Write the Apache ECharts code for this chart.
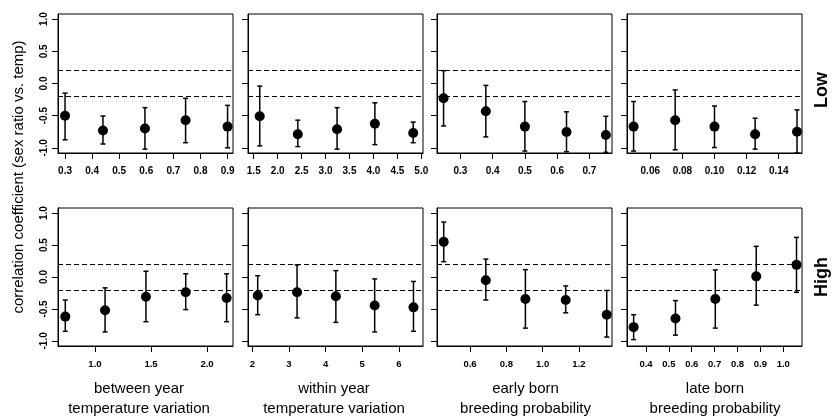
<!DOCTYPE html>
<html>
<head>
<meta charset="utf-8">
<script src="https://cdn.jsdelivr.net/npm/echarts@6/dist/echarts.min.js"></script>
<style>
html, body {margin: 0; padding: 0; background: #fff;}
#contain {width: 834px; height: 418px;}
</style>
</head>
<body>
<div id="contain"></div>
<script>
// each row: [x, correlation, lower, upper]
var lowBetween = [[0.30, -0.50, -0.875, -0.15], [0.44, -0.73, -0.94, -0.505], [0.595, -0.70, -1.02, -0.375], [0.745, -0.57, -0.92, -0.23], [0.90, -0.67, -1.00, -0.34]];
var lowWithin = [[1.625, -0.51, -0.97, -0.04], [2.42, -0.79, -0.98, -0.57], [3.24, -0.71, -1.02, -0.375], [4.03, -0.625, -0.95, -0.30], [4.83, -0.77, -0.92, -0.60]];
var lowEarly = [[0.248, -0.23, -0.66, 0.20], [0.379, -0.43, -0.83, -0.03], [0.50, -0.67, -1.05, -0.28], [0.629, -0.755, -1.06, -0.44], [0.751, -0.80, -1.07, -0.51]];
var lowLate = [[0.0496, -0.67, -1.05, -0.28], [0.0755, -0.57, -1.03, -0.10], [0.100, -0.67, -0.995, -0.35], [0.1253, -0.79, -1.02, -0.54], [0.1514, -0.75, -1.08, -0.41]];
var highBetween = [[0.735, -0.62, -0.85, -0.36], [1.09, -0.52, -0.86, -0.17], [1.455, -0.31, -0.70, 0.09], [1.81, -0.24, -0.51, 0.05], [2.175, -0.33, -0.70, 0.05]];
var highWithin = [[2.145, -0.29, -0.59, 0.02], [3.22, -0.24, -0.64, 0.19], [4.28, -0.30, -0.71, 0.10], [5.34, -0.445, -0.86, -0.03], [6.40, -0.475, -0.85, -0.07]];
var highEarly = [[0.455, 0.55, 0.24, 0.86], [0.687, -0.05, -0.36, 0.28], [0.905, -0.345, -0.80, 0.115], [1.127, -0.36, -0.56, -0.14], [1.353, -0.59, -0.94, -0.21]];
var highLate = [[0.346, -0.785, -0.98, -0.59], [0.529, -0.65, -0.91, -0.37], [0.703, -0.345, -0.80, 0.11], [0.882, 0.01, -0.44, 0.48], [1.058, 0.19, -0.24, 0.62]];

// tick values
var yTicks = [-1, -0.5, 0, 0.5, 1];
var lowBetweenTicks = [0.3, 0.4, 0.5, 0.6, 0.7, 0.8, 0.9];
var lowWithinTicks = [1.5, 2.0, 2.5, 3.0, 3.5, 4.0, 4.5, 5.0];
var lowEarlyTicks = [0.3, 0.4, 0.5, 0.6, 0.7];
var lowLateTicks = [0.06, 0.08, 0.10, 0.12, 0.14];
var highBetweenTicks = [1.0, 1.5, 2.0];
var highWithinTicks = [2, 3, 4, 5, 6];
var highEarlyTicks = [0.6, 0.8, 1.0, 1.2];
var highLateTicks = [0.4, 0.5, 0.6, 0.7, 0.8, 0.9, 1.0];

var xTitles = ['between year\ntemperature variation', 'within year\ntemperature variation', 'early born\nbreeding probability', 'late born\nbreeding probability'];

var panels = [
    {data: lowBetween, ticks: lowBetweenTicks, min: 0.274, max: 0.920, dec: 1},
    {data: lowWithin, ticks: lowWithinTicks, min: 1.38, max: 5.035, dec: 1},
    {data: lowEarly, ticks: lowEarlyTicks, min: 0.2276, max: 0.770, dec: 1},
    {data: lowLate, ticks: lowLateTicks, min: 0.0455, max: 0.1545, dec: 2},
    {data: highBetween, ticks: highBetweenTicks, min: 0.67, max: 2.232, dec: 1},
    {data: highWithin, ticks: highWithinTicks, min: 1.88, max: 6.66, dec: 0},
    {data: highEarly, ticks: highEarlyTicks, min: 0.418, max: 1.382, dec: 1},
    {data: highLate, ticks: highLateTicks, min: 0.317, max: 1.082, dec: 1}
];

var font = 'Liberation Sans, Arial, Helvetica, sans-serif';
var colLeft = [58, 248, 437, 627], rowTop = [14, 208], rowH = [139, 138], boxW = 175;

function errorBar(params, api) {
    var x = api.value(0);
    var lo = api.coord([x, api.value(2)]);
    var hi = api.coord([x, api.value(3)]);
    var w = 2.5;
    var st = {stroke: '#000', lineWidth: 1.5};
    return {
        type: 'group',
        children: [
            {type: 'line', shape: {x1: lo[0], y1: lo[1], x2: hi[0], y2: hi[1]}, style: st},
            {type: 'line', shape: {x1: lo[0] - w, y1: lo[1], x2: lo[0] + w, y2: lo[1]}, style: st},
            {type: 'line', shape: {x1: hi[0] - w, y1: hi[1], x2: hi[0] + w, y2: hi[1]}, style: st}
        ]
    };
}

var grids = [], xAxes = [], yAxes = [], series = [];
panels.forEach(function (p, i) {
    var r = Math.floor(i / 4), c = i % 4;
    grids.push({
        left: colLeft[c], top: rowTop[r], width: boxW, height: rowH[r],
        show: true, borderColor: '#000', borderWidth: 1, backgroundColor: 'transparent'
    });
    xAxes.push({
        type: 'value', gridIndex: i, min: p.min, max: p.max,
        axisLine: {show: true, onZero: false, lineStyle: {color: '#000'}},
        axisTick: {show: true, length: 6, customValues: p.ticks, lineStyle: {color: '#000'}},
        axisLabel: {
            customValues: p.ticks, margin: 13, fontSize: r == 0 ? 10 : 9.5, fontWeight: 'bold',
            color: '#000', fontFamily: font,
            formatter: function (v) { return v.toFixed(p.dec); }
        },
        splitLine: {show: false}
    });
    yAxes.push({
        type: 'value', gridIndex: i, min: -1.08, max: 1.08,
        axisLine: {show: true, lineStyle: {color: '#000'}},
        axisTick: {show: true, length: 6, customValues: yTicks, lineStyle: {color: '#000'}},
        axisLabel: {
            show: c == 0, customValues: yTicks, rotate: 90, margin: 9, fontSize: 10,
            fontWeight: 'bold', color: '#000', fontFamily: font,
            formatter: function (v) { return v.toFixed(1); }
        },
        splitLine: {show: false}
    });
    series.push({
        type: 'custom', xAxisIndex: i, yAxisIndex: i, data: p.data,
        renderItem: errorBar, encode: {x: 0, y: [2, 3]}, silent: true
    });
    series.push({
        type: 'scatter', xAxisIndex: i, yAxisIndex: i,
        data: p.data.map(function (d) { return [d[0], d[1]]; }),
        symbolSize: 10, itemStyle: {color: '#000', opacity: 1}, silent: true,
        markLine: {
            silent: true, symbol: 'none', label: {show: false},
            lineStyle: {type: [5, 3], color: '#000', width: 1.2},
            data: [{yAxis: 0.2}, {yAxis: -0.2}]
        }
    });
});

var graphics = [
    {type: 'text', x: 19, y: 177, rotation: Math.PI / 2,
        style: {text: 'correlation coefficient (sex ratio vs. temp)', fontSize: 15, fontFamily: font, fill: '#000', align: 'center', verticalAlign: 'middle'}},
    {type: 'text', x: 822, y: 90, rotation: Math.PI / 2,
        style: {text: 'Low', fontSize: 18, fontWeight: 'bold', fontFamily: font, fill: '#000', align: 'center', verticalAlign: 'middle'}},
    {type: 'text', x: 822, y: 277, rotation: Math.PI / 2,
        style: {text: 'High', fontSize: 18, fontWeight: 'bold', fontFamily: font, fill: '#000', align: 'center', verticalAlign: 'middle'}}
];
var titleX = [139, 334, 525.5, 715];
xTitles.forEach(function (t, k) {
    graphics.push({type: 'text', x: titleX[k], y: 399,
        style: {text: t, fontSize: 15, lineHeight: 20, fontFamily: font, fill: '#000', align: 'center', verticalAlign: 'middle'}});
});

var myChart = echarts.init(document.getElementById('contain'));
myChart.setOption({
    animation: false,
    backgroundColor: '#fff',
    grid: grids,
    xAxis: xAxes,
    yAxis: yAxes,
    series: series,
    graphic: graphics
});
</script>
</body>
</html>
